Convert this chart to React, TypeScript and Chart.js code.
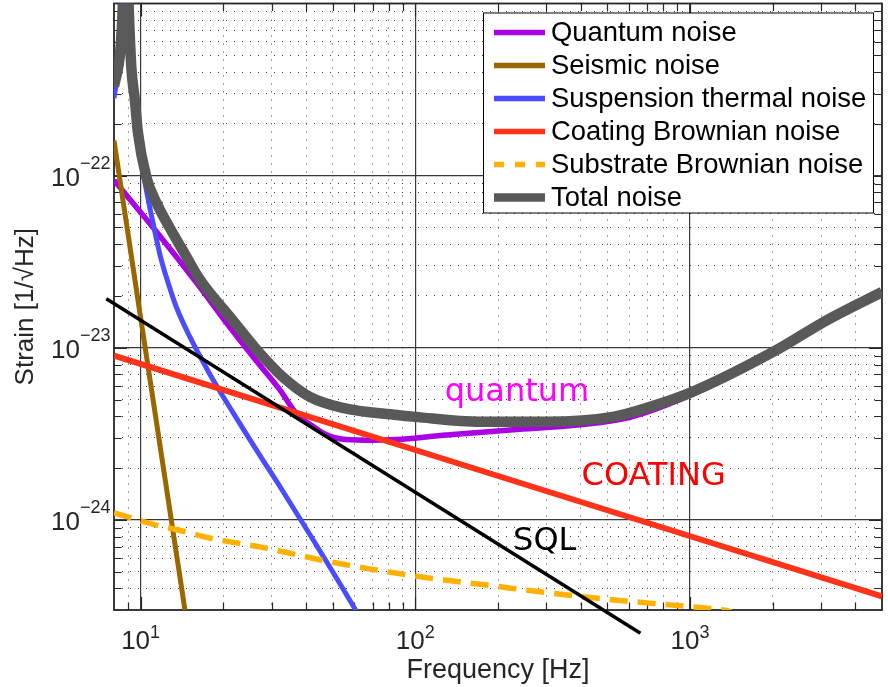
import React, { useEffect, useRef } from 'react';
import { Chart, registerables } from 'chart.js';

Chart.register(...registerables);

// ---------- data: [frequency (Hz), strain (1/sqrt(Hz))] ----------
const quantumNoise: [number, number][] = [
  [8, 9.4e-23], [11.1, 5.0e-23], [16.4, 2.26e-23], [20.5, 1.4e-23], [25.6, 8.9e-24],
  [32, 5.75e-24], [36.9, 4.15e-24], [42.4, 3.5e-24], [48, 3.1e-24], [56, 2.93e-24],
  [70, 2.9e-24], [85, 2.93e-24], [130, 3.12e-24], [227, 3.34e-24], [398, 3.57e-24],
  [605, 3.95e-24], [1000, 5.3e-24], [2000, 9.3e-24], [3156, 1.42e-23], [5000, 2.07e-23],
];
const seismicNoise: [number, number][] = [
  [8, 1.6e-22], [10, 1.5e-23], [15, 2.1e-25],
];
const suspensionNoise: [number, number][] = [
  [8, 2.82e-22], [8.44, 5.3e-22], [8.62, 9.8e-22], [8.83, 4e-21], [9.04, 9.8e-22],
  [9.25, 4.2e-22], [9.53, 2.7e-22], [9.78, 1.65e-22], [10.06, 1.2e-22], [10.6, 7.6e-23],
  [11.1, 5.3e-23], [11.8, 3.4e-23], [12.6, 2.38e-23], [13.5, 1.72e-23], [15.1, 1.16e-23],
  [17.8, 7.1e-24], [21.7, 4.2e-24], [27.5, 2.3e-24], [32.1, 1.57e-24], [42.4, 7.7e-25],
  [61, 2.95e-25], [70, 2.0e-25],
];
const coatingNoise: [number, number][] = [
  [8, 9.0e-24], [100, 2.55e-24], [5000, 3.6e-25],
];
const substrateNoise: [number, number][] = [
  [8, 1.1e-24], [11.06, 9.47e-25], [14.2, 8.63e-25], [17.8, 7.86e-25], [28.3, 6.89e-25],
  [35.8, 6.36e-25], [46.8, 5.79e-25], [70.6, 5.15e-25], [111, 4.61e-25], [179, 4.2e-25],
  [279, 3.84e-25], [443, 3.53e-25], [697, 3.3e-25], [1088, 3.1e-25], [1250, 3.03e-25],
  [1400, 2.93e-25], [1550, 2.6e-25],
];
const totalNoise: [number, number][] = [
  [8, 3.3e-22], [8.44, 5.4e-22], [8.62, 1e-21], [8.83, 4e-21], [9.04, 1e-21],
  [9.25, 4.27e-22], [9.53, 2.75e-22], [9.78, 1.77e-22], [10.49, 9.83e-23], [11.5, 6.8e-23],
  [12.75, 5.0e-23], [14.5, 3.5e-23], [16.4, 2.5e-23], [21.6, 1.45e-23], [26.5, 9.73e-24],
  [32.9, 6.78e-24], [41.3, 5.19e-24], [54.4, 4.48e-24], [85.6, 4.07e-24], [100, 3.97e-24],
  [172, 3.72e-24], [301, 3.72e-24], [524, 3.97e-24], [697, 4.48e-24], [1000, 5.47e-24],
  [2006, 9.46e-24], [3156, 1.45e-23], [5000, 2.11e-23],
];
const sqlLine: [number, number][] = [
  [7.5, 1.93e-23], [660, 2.2e-25],
];

const seriesLabels = [
  'Quantum noise', 'Seismic noise', 'Suspension thermal noise',
  'Coating Brownian noise', 'Substrate Brownian noise', 'Total noise',
];
const seriesColors = ['#a900e6', '#996600', '#4c4cff', '#ff3319', '#ffb000', '#595959'];

// axis ranges and tick labels
const xRange = [8, 5000];
const yRange = [3e-25, 1e-21];
const xLabelValues = [10, 100, 1000];
const xLabelExponents = ['1', '2', '3'];
const yLabelValues = [1e-24, 1e-23, 1e-22];
const yLabelExponents = ['\u221224', '\u221223', '\u221222'];
const xTitle = 'Frequency [Hz]';
const yTitle = 'Strain [1/\u221AHz]';

// text annotations
const annotationTexts = ['quantum', 'COATING', 'SQL'];
const annotationFreqs = [128, 403, 227];
const annotationStrains = [4.88e-24, 1.6e-24, 6.65e-25];
const annotationColors = ['#ff00ff', '#ff0000', '#000000'];

const SANS = "'Liberation Sans', Arial, Helvetica, sans-serif";
const DEJAVU = "'DejaVu Sans', sans-serif";

function isMajor(v: number) {
  const l = Math.log10(v);
  return Math.abs(l - Math.round(l)) < 1e-9;
}
function logTicks(min: number, max: number) {
  const out: number[] = [];
  for (let e = Math.floor(Math.log10(min)); e <= Math.ceil(Math.log10(max)); e++) {
    for (let m = 1; m <= 9; m++) {
      const v = m * Math.pow(10, e);
      if (v > min * 1.0001 && v < max * 0.9999) out.push(v);
    }
  }
  return out;
}
const xTickValues = logTicks(xRange[0], xRange[1]);
const yTickValues = logTicks(yRange[0], yRange[1]);

const toXY = (arr: [number, number][]) => arr.map(([x, y]) => ({ x, y }));

const decorPlugin = {
  id: 'decor',
  beforeDatasetsDraw(chart: any) {
    const { ctx, chartArea: a, scales } = chart;
    const xs = scales.x;
    const ys = scales.y;
    ctx.save();
    ctx.strokeStyle = '#262626';
    ctx.lineWidth = 1.2;
    ctx.beginPath();
    for (const v of xTickValues) {
      const px = Math.round(xs.getPixelForValue(v)) + 0.5;
      const len = isMajor(v) ? 13 : 7.5;
      ctx.moveTo(px, a.bottom); ctx.lineTo(px, a.bottom - len);
      ctx.moveTo(px, a.top); ctx.lineTo(px, a.top + len);
    }
    for (const v of yTickValues) {
      const py = Math.round(ys.getPixelForValue(v)) + 0.5;
      const len = isMajor(v) ? 13 : 7.5;
      ctx.moveTo(a.left, py); ctx.lineTo(a.left + len, py);
      ctx.moveTo(a.right, py); ctx.lineTo(a.right - len, py);
    }
    ctx.stroke();
    ctx.lineWidth = 1.8;
    ctx.strokeRect(a.left, a.top, a.right - a.left, a.bottom - a.top);
    ctx.restore();
  },
  afterDraw(chart: any) {
    const { ctx, chartArea: a, scales } = chart;
    const xs = scales.x;
    const ys = scales.y;
    ctx.save();
    // annotations
    ctx.textBaseline = 'alphabetic';
    ctx.textAlign = 'left';
    ctx.font = `32px ${DEJAVU}`;
    annotationTexts.forEach((t, i) => {
      ctx.fillStyle = annotationColors[i];
      ctx.fillText(t, xs.getPixelForValue(annotationFreqs[i]), ys.getPixelForValue(annotationStrains[i]));
    });
    // tick labels
    ctx.fillStyle = '#262626';
    const baseFont = `26px ${SANS}`;
    const supFont = `18px ${SANS}`;
    xLabelValues.forEach((v, i) => {
      const px = xs.getPixelForValue(v);
      ctx.font = baseFont;
      const w1 = ctx.measureText('10').width;
      ctx.font = supFont;
      const w2 = ctx.measureText(xLabelExponents[i]).width;
      const start = px - (w1 + w2) / 2;
      ctx.textAlign = 'left';
      ctx.font = baseFont;
      ctx.fillText('10', start, a.bottom + 39);
      ctx.font = supFont;
      ctx.fillText(xLabelExponents[i], start + w1, a.bottom + 28);
    });
    yLabelValues.forEach((v, i) => {
      const py = ys.getPixelForValue(v);
      const right = a.left - 3.5;
      ctx.textAlign = 'right';
      ctx.font = supFont;
      const w2 = ctx.measureText(yLabelExponents[i]).width;
      ctx.fillText(yLabelExponents[i], right, py - 6.5);
      ctx.font = baseFont;
      ctx.fillText('10', right - w2, py + 10);
    });
    // axis titles
    ctx.font = `27px ${SANS}`;
    ctx.textAlign = 'center';
    ctx.fillText(xTitle, (a.left + a.right) / 2, 678);
    ctx.font = `26px ${SANS}`;
    ctx.save();
    ctx.translate(33, (a.top + a.bottom) / 2);
    ctx.rotate(-Math.PI / 2);
    ctx.fillText(yTitle, 0, 0);
    ctx.restore();
    // legend
    const lx = 483.5, ly = 13, lw = 390, lh = 200;
    ctx.fillStyle = '#ffffff';
    ctx.fillRect(lx, ly, lw, lh);
    ctx.strokeStyle = '#000000';
    ctx.lineWidth = 1;
    ctx.strokeRect(lx, ly, lw, lh);
    ctx.font = `27.4px ${SANS}`;
    ctx.textAlign = 'left';
    ctx.textBaseline = 'middle';
    const legendSets = chart.data.datasets.filter((d: any) => seriesLabels.includes(d.label));
    legendSets.forEach((d: any, i: number) => {
      const cy = 32.5 + i * 33;
      ctx.save();
      ctx.strokeStyle = d.borderColor;
      ctx.lineWidth = d.label === 'Total noise' ? 8.5 : 5.5;
      ctx.setLineDash(d.borderDash ? [10, 11] : []);
      ctx.beginPath();
      ctx.moveTo(494, cy);
      ctx.lineTo(545, cy);
      ctx.stroke();
      ctx.restore();
      ctx.fillStyle = '#000000';
      ctx.fillText(d.label, 551, cy + 1);
    });
    ctx.restore();
  },
};

export default function App() {
  const canvasRef = useRef<HTMLCanvasElement>(null);

  useEffect(() => {
    const series = [quantumNoise, seismicNoise, suspensionNoise, coatingNoise, substrateNoise, totalNoise];
    const widths = [5.5, 5, 5, 6, 5.5, 10.5];
    const orders = [6, 5, 4, 3, 2, 1];
    const datasets: any[] = series.map((s, i) => ({
      label: seriesLabels[i],
      data: toXY(s),
      borderColor: seriesColors[i],
      backgroundColor: seriesColors[i],
      borderWidth: widths[i],
      borderDash: i === 4 ? [18, 10] : undefined,
      order: orders[i],
      cubicInterpolationMode: 'monotone',
    }));
    datasets.push({
      label: 'SQL',
      data: toXY(sqlLine),
      borderColor: '#000000',
      backgroundColor: '#000000',
      borderWidth: 3.5,
      order: 0,
      clip: false,
    });

    const gridColor = (c: any) => (c.tick && isMajor(c.tick.value) ? '#3a3a3a' : 'rgba(30,30,30,0.85)');
    const gridWidth = (c: any) => (c.tick && isMajor(c.tick.value) ? 1.2 : 1);
    const gridDash = (c: any) => (c.tick && isMajor(c.tick.value) ? [] : [1, 7]);

    const chart = new Chart(canvasRef.current as HTMLCanvasElement, {
      type: 'line',
      data: { datasets },
      options: {
        animation: false,
        responsive: false,
        events: [],
        layout: { padding: { top: 3.5, right: 6, left: 0, bottom: 0 } },
        elements: {
          point: { radius: 0, hoverRadius: 0 },
          line: { tension: 0, borderJoinStyle: 'round', borderCapStyle: 'butt', fill: false },
        },
        plugins: { legend: { display: false }, tooltip: { enabled: false } },
        scales: {
          x: {
            type: 'logarithmic',
            position: 'bottom',
            min: xRange[0],
            max: xRange[1],
            afterBuildTicks: (s: any) => { s.ticks = xTickValues.map((v) => ({ value: v })); },
            afterFit: (s: any) => { s.height = 77; },
            ticks: { display: false, autoSkip: false },
            grid: { drawTicks: false, color: gridColor, lineWidth: gridWidth },
            border: { display: false, dash: gridDash },
          },
          y: {
            type: 'logarithmic',
            position: 'left',
            min: yRange[0],
            max: yRange[1],
            afterBuildTicks: (s: any) => { s.ticks = yTickValues.map((v) => ({ value: v })); },
            afterFit: (s: any) => { s.width = 114; },
            ticks: { display: false, autoSkip: false },
            grid: { drawTicks: false, color: gridColor, lineWidth: gridWidth },
            border: { display: false, dash: gridDash },
          },
        },
      } as any,
      plugins: [decorPlugin],
    });
    return () => chart.destroy();
  }, []);

  return (
    <div style={{ position: 'absolute', left: 0, top: 0, width: 888, height: 687, background: '#ffffff' }}>
      <canvas ref={canvasRef} width={888} height={687} style={{ display: 'block', width: 888, height: 687 }} />
    </div>
  );
}
